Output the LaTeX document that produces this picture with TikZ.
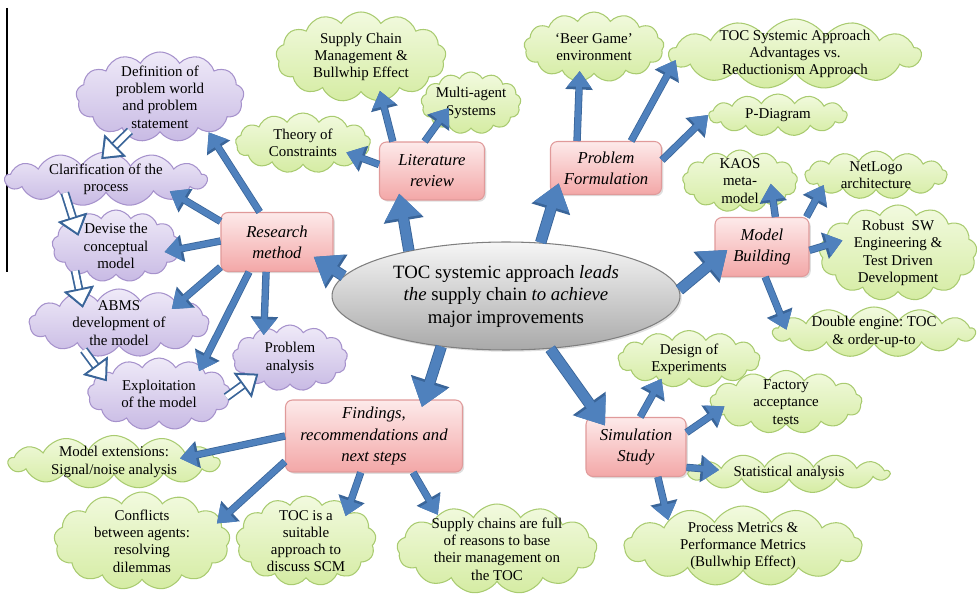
\documentclass[tikz,border=0pt]{standalone}
\usepackage{fontspec}
\setmainfont{Liberation Serif}
\usetikzlibrary{shapes.symbols,shapes.geometric,arrows.meta,shadows}
\frenchspacing

\definecolor{arrowblue}{HTML}{4F81BD}
\definecolor{arrowedge}{HTML}{3A6599}
\definecolor{greentop}{HTML}{F2FADF}
\definecolor{greenbottom}{HTML}{D5ECA3}
\definecolor{greenedge}{HTML}{A9CB70}
\definecolor{purpletop}{HTML}{EFEAF8}
\definecolor{purplebottom}{HTML}{C8BAE4}
\definecolor{purpleedge}{HTML}{A692CC}
\definecolor{pinktop}{HTML}{FDEAEA}
\definecolor{pinkbottom}{HTML}{F3A7A7}
\definecolor{pinkedge}{HTML}{E09A9A}
\definecolor{coretop}{HTML}{F6F6F6}
\definecolor{corebottom}{HTML}{A9A9A9}
\definecolor{coreedge}{HTML}{7F7F7F}

\begin{document}
\begin{tikzpicture}[x=0.02cm, y=-0.02cm]
    \tikzset{txt/.style={align=center, font=\fontsize{8.5}{9.8}\selectfont}}
    \tikzset{gcloud/.style={cloud, cloud puffs=13, cloud puff arc=120, cloud ignores aspect,
        inner sep=0pt, draw=greenedge, line width=0.6pt, top color=greentop, bottom color=greenbottom}}
    \tikzset{pcloud/.style={gcloud, draw=purpleedge, top color=purpletop, bottom color=purplebottom}}
    \tikzset{topic/.style={rectangle, rounded corners=4pt, draw=pinkedge, line width=0.6pt,
        top color=pinktop, bottom color=pinkbottom, align=center, inner sep=1pt,
        font=\fontsize{9.5}{12}\selectfont\itshape,
        drop shadow={opacity=0.25, shadow xshift=1pt, shadow yshift=-1pt}}}
    \tikzset{mainarrow/.style={draw=arrowblue, line width=5.5pt, -{Triangle[width=20pt,length=14pt]},
        preaction={draw=arrowedge, line width=6.5pt, -{Triangle[width=22pt,length=15.5pt]}}}}
    \tikzset{subarrow/.style={draw=arrowblue, line width=3.3pt, -{Triangle[width=13pt,length=9pt]},
        preaction={draw=arrowedge, line width=4.2pt, -{Triangle[width=15pt,length=10.5pt]}}}}
    \tikzset{openarrow/.style={draw=white, line width=3pt,
        -{Triangle[fill=white, color=arrowedge, width=17pt, length=11pt, line width=1pt]},
        preaction={draw=arrowedge, line width=5pt, -{Triangle[width=17pt,length=11pt]}}}}

    \useasboundingbox (0,0) rectangle (977,594);
    \draw[line width=0.8pt] (7,8) -- (7,272);

    % research method branch
    \node[pcloud, minimum width=3.36cm, minimum height=1.8cm,
        label={[txt]center:Definition of\\problem world\\and problem\\statement}] (def) at (160,97) {};
    \node[pcloud, minimum width=4.04cm, minimum height=1.08cm,
        label={[txt]center:Clarification of the\\process}] (clar) at (106,179) {};
    \node[pcloud, minimum width=2.56cm, minimum height=1.44cm,
        label={[txt]center:Devise the\\conceptual\\model}] (dev) at (116,246) {};
    \node[pcloud, minimum width=3.6cm, minimum height=1.36cm,
        label={[txt]center:ABMS\\development of\\the model}] (abms) at (119,323) {};
    \node[pcloud, minimum width=2.86cm, minimum height=1.44cm,
        label={[txt]center:Exploitation\\of the model}] (expl) at (159,394) {};
    \node[pcloud, minimum width=2.3cm, minimum height=1.32cm,
        label={[txt]center:Problem\\analysis}] (pa) at (290,358) {};

    % literature and problem formulation
    \node[gcloud, minimum width=3.4cm, minimum height=1.8cm,
        label={[txt]center:Supply Chain\\Management \&\\Bullwhip Effect}] (scm) at (361,57) {};
    \node[gcloud, minimum width=2cm, minimum height=1.24cm,
        label={[txt]center:Multi-agent\\Systems}] (mas) at (471,103) {};
    \node[gcloud, minimum width=2.7cm, minimum height=1.2cm,
        label={[txt]center:Theory of\\Constraints}] (toc) at (303,143) {};
    \node[gcloud, minimum width=2.8cm, minimum height=1.4cm,
        label={[txt]center:`Beer Game'\\environment}] (beer) at (594,47) {};
    \node[gcloud, minimum width=5.04cm, minimum height=1.4cm,
        label={[txt]center:TOC Systemic Approach\\Advantages vs.\\Reductionism Approach}] (tocs) at (795,54) {};
    \node[gcloud, minimum width=2.76cm, minimum height=0.84cm,
        label={[txt]center:P-Diagram}] (pd) at (778,115) {};

    % model building
    \node[gcloud, minimum width=2.3cm, minimum height=1.24cm,
        label={[txt]center:KAOS\\meta-\\model}] (kaos) at (740,181) {};
    \node[gcloud, minimum width=2.84cm, minimum height=0.96cm,
        label={[txt]center:NetLogo\\architecture}] (nl) at (876,175) {};
    \node[gcloud, minimum width=3.16cm, minimum height=1.92cm,
        label={[txt]center:Robust\ \ SW\\Engineering \&\\Test Driven\\Development}] (rob) at (898,253) {};
    \node[gcloud, minimum width=4.04cm, minimum height=1cm,
        label={[txt]center:Double engine: TOC\\\& order-up-to}] (de) at (874,332) {};

    % simulation study
    \node[gcloud, minimum width=2.84cm, minimum height=1.14cm,
        label={[txt]center:Design of\\Experiments}] (doe) at (689,359) {};
    \node[gcloud, minimum width=3.04cm, minimum height=1.26cm,
        label={[txt]center:Factory\\acceptance\\tests}] (fat) at (786,402) {};
    \node[gcloud, minimum width=4cm, minimum height=0.8cm,
        label={[txt]center:Statistical analysis}] (sa) at (789,473) {};
    \node[gcloud, minimum width=4.76cm, minimum height=1.6cm,
        label={[txt]center:Process Metrics \&\\Performance Metrics\\(Bullwhip Effect)}] (pm) at (743,546) {};

    % findings
    \node[gcloud, minimum width=4.22cm, minimum height=1.06cm,
        label={[txt]center:Model extensions:\\Signal/noise analysis}] (me) at (114,462) {};
    \node[gcloud, minimum width=3.52cm, minimum height=1.96cm,
        label={[txt]center:Conflicts\\between agents:\\resolving\\dilemmas}] (cf) at (142,541) {};
    \node[gcloud, minimum width=2.8cm, minimum height=1.8cm,
        label={[txt]center:TOC is a\\suitable\\approach to\\discuss SCM}] (ts) at (306,541) {};
    \node[gcloud, minimum width=4cm, minimum height=1.8cm,
        label={[txt]center:Supply chains are full\\of reasons to base\\their management on\\the TOC}] (sc) at (497,549) {};

    % topics
    \node[topic, minimum width=2.1cm, minimum height=1.16cm] (lr) at (432,171) {Literature\\review};
    \node[topic, minimum width=2.22cm, minimum height=1.06cm] (pf) at (606,168) {Problem\\Formulation};
    \node[topic, minimum width=2.24cm, minimum height=1.18cm] (rm) at (277,242) {Research\\method};
    \node[topic, minimum width=1.88cm, minimum height=1.18cm] (mb) at (762,247) {Model\\Building};
    \node[topic, minimum width=2cm, minimum height=1.18cm] (ss) at (636,447) {Simulation\\Study};
    \node[topic, minimum width=3.54cm, minimum height=1.44cm] (fd) at (374,436) {Findings,\\recommendations and\\next steps};

    \node[ellipse, draw=coreedge, line width=0.6pt, top color=coretop, bottom color=corebottom,
        minimum width=6.96cm, minimum height=2.16cm, inner sep=0pt, align=center,
        font=\fontsize{10.7}{12.8}\selectfont,
        drop shadow={opacity=0.25, shadow xshift=1pt, shadow yshift=-1pt}] (core) at (506,296)
        {TOC systemic approach \textit{leads}\\\textit{the} supply chain \textit{to achieve}\\major improvements};

    \draw[mainarrow, shorten >=-13.4pt] (core.173) -- (rm.-26);
    \draw[mainarrow, shorten >=-4pt] (core.155) -- (lr.-137);
    \draw[mainarrow, shorten >=-7pt] (core.57) -- (pf.-152);
    \draw[mainarrow, shorten >=-9.5pt] (core.2) -- (mb.-164.5);
    \draw[mainarrow, shorten >=-4.5pt] (core.-142) -- (fd.36);
    \draw[mainarrow, shorten >=-6pt] (core.-50) -- (ss.141);

    \draw[subarrow] (rm.120) -- (def.-36);
    \draw[subarrow, shorten >=-7pt] (rm.160) -- (clar.-14);
    \draw[subarrow, shorten >=-8pt] (rm.179) -- (dev.-3);
    \draw[subarrow, shorten >=-4.5pt] (rm.-156) -- (abms.18);
    \draw[subarrow, shorten >=-3pt] (rm.-133) -- (expl.33);
    \draw[subarrow, shorten >=-4pt] (rm.-110) -- (pa.131);

    \draw[subarrow, shorten >=-6pt] (lr.143) -- (scm.-64);
    \draw[subarrow, shorten >=-12.5pt] (lr.104) -- (mas.-147);
    \draw[subarrow, shorten >=-7pt] (lr.173) -- (toc.-14);

    \draw[subarrow, shorten >=-6pt] (pf.137) -- (beer.-113);
    \draw[subarrow, shorten >=-3pt] (pf.47) -- (tocs.-175);
    \draw[subarrow] (pf.8) -- (pd.180);

    \draw[subarrow, shorten >=-12.5pt] (mb.66) -- (kaos.-36);
    \draw[subarrow, shorten >=-3pt] (mb.34) -- (nl.-165);
    \draw[subarrow, shorten >=-14pt] (mb.-4) -- (rob.176);
    \draw[subarrow, shorten >=-5.5pt] (mb.-84) -- (de.173);

    \draw[subarrow, shorten >=-2pt] (ss.82) -- (doe.-142);
    \draw[subarrow, shorten >=-7pt] (ss.16) -- (fat.-171);
    \draw[subarrow, shorten >=-14pt] (ss.-22) -- (sa.177);
    \draw[subarrow] (ss.-54) -- (pm.161);

    \draw[subarrow, shorten >=-18pt] (fd.180) -- (me.6);
    \draw[subarrow, shorten >=-3pt] (fd.-164) -- (cf.15);
    \draw[subarrow, shorten >=-5pt] (fd.-110) -- (ts.38);
    \draw[subarrow] (fd.-43) -- (sc.150);

    \draw[openarrow, shorten <=-3pt, shorten >=-6pt] (def.-132) -- (clar.84);
    \draw[openarrow, shorten <=-5pt, shorten >=-7pt] (clar.-150) -- (dev.152);
    \draw[openarrow, shorten <=-2pt, shorten >=-9pt] (dev.-145) -- (abms.142);
    \draw[openarrow, shorten <=-2pt, shorten >=-6pt] (abms.-138) -- (expl.160);
    \draw[openarrow, shorten <=-3pt, shorten >=-7pt] (expl.0) -- (pa.-151);
\end{tikzpicture}
\end{document}
